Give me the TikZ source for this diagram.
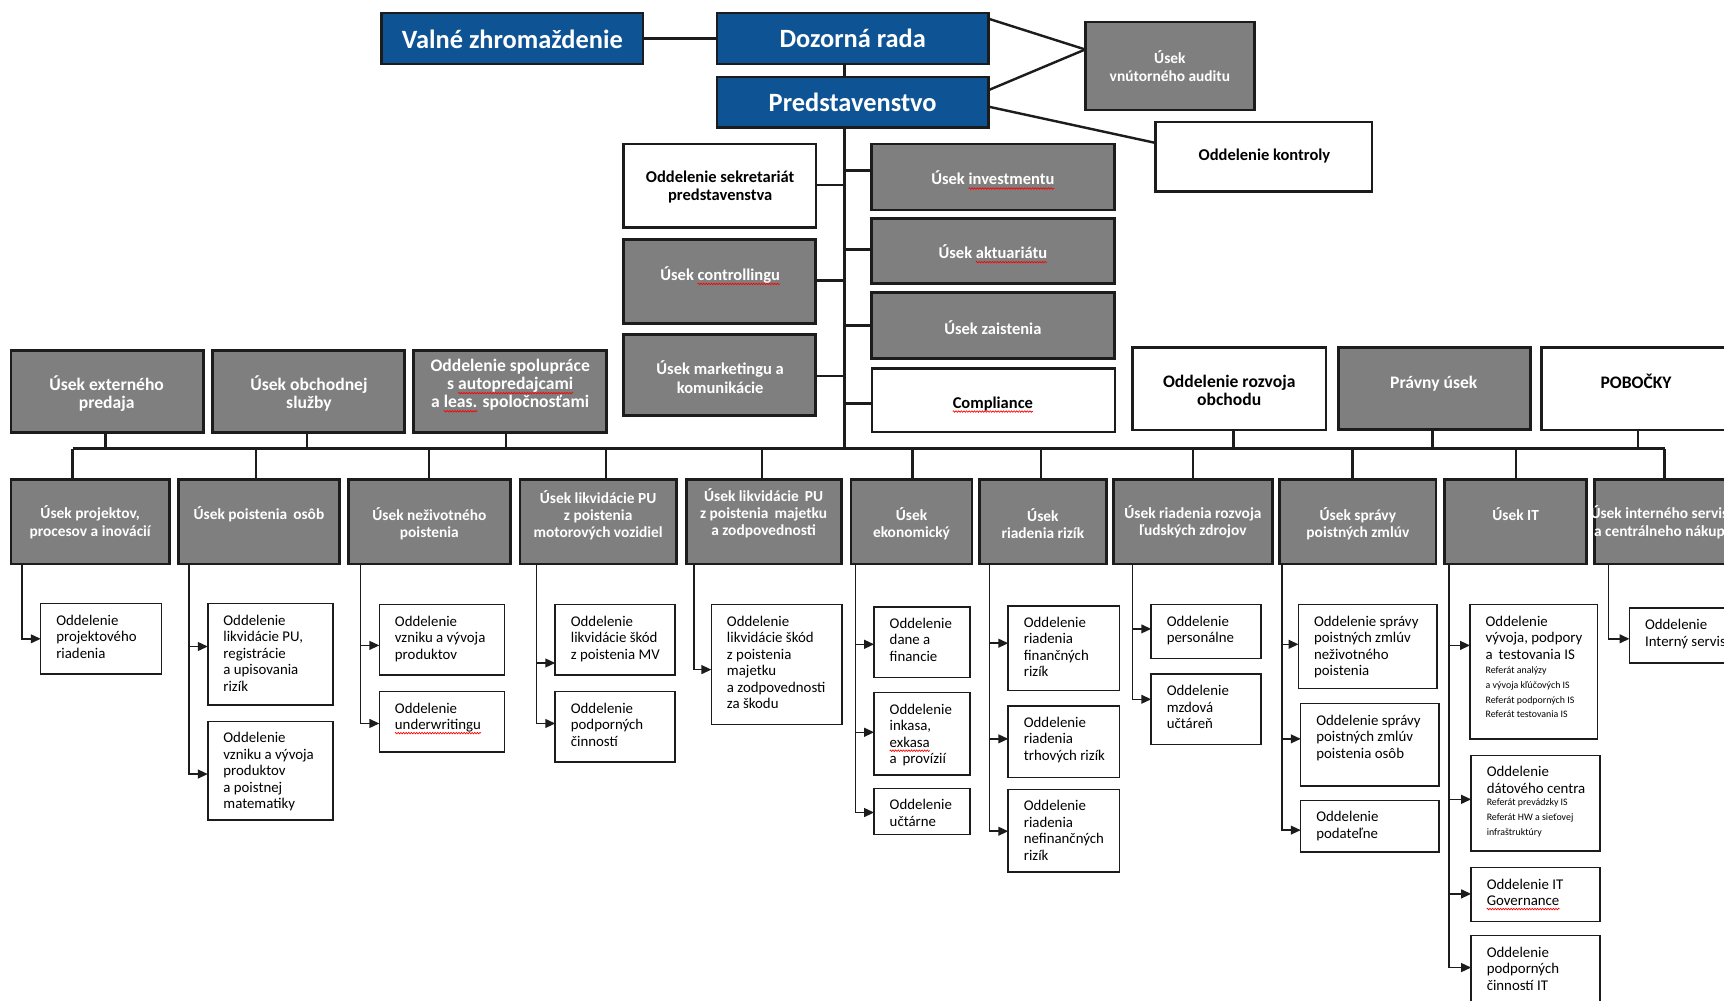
\documentclass[tikz,border=0pt]{standalone}
\usepackage{fontspec}
\setmainfont{Carlito}
\usetikzlibrary{arrows.meta,decorations.pathmorphing}
\definecolor{corpblue}{RGB}{14,84,148}
\definecolor{boxgray}{RGB}{127,127,127}
\definecolor{edge}{RGB}{28,28,28}
% word with a red wavy spell-check underline
\newlength\spellwd
\newcommand\spellmark[1]{\settowidth\spellwd{#1}\rlap{\tikz[overlay,x=1pt,y=1pt]\draw[red,line width=0.6pt,decorate,decoration={zigzag,segment length=2.4pt,amplitude=0.7pt}] (0,-3.2) -- (\spellwd,-3.2);}#1}
% box given by its corners: style, name, x1, y1, x2, y2
\newcommand\orgbox[6]{\node[#1, minimum width={#5-#3}, minimum height={#6-#4}] (#2) at ({(#3+#5)/2},{(#4+#6)/2}) {};}
% label: style, name, x, y, text
\newcommand\orglabel[5]{\node[#1] (#2) at (#3,#4) {#5};}
% department box with left-aligned text: name, x1, y1, x2, y2, text
\newcommand\subdept[6]{%
  \node[subbox, minimum width={#4-#2}, minimum height={#5-#3}] (#1) at ({(#2+#4)/2},{(#3+#5)/2}) {};
  \node[subtext] (#1-t) at ({#2+14},{#3+10}) {#6};}
% arrow from a division down its stem into a department: parent, child, stem x, y
\newcommand\feed[4]{\draw[sarr] (#1.south -| #3,0) |- (#2.west |- 0,#4);}
% drop from a box to the horizontal bus: box, anchor, x
\newcommand\tobus[3]{\draw[conn] (#1.#2 -| #3,0) -- (busL -| #3,0);}
\begin{document}
\begin{tikzpicture}[x=1pt,y=-1pt,
  bluebox/.style={draw=edge, line width=2pt, fill=corpblue, inner sep=0pt, outer sep=0pt},
  graybox/.style={draw=edge, line width=2.6pt, fill=boxgray, inner sep=0pt, outer sep=0pt},
  whitebox/.style={draw=edge, line width=2.2pt, fill=white, inner sep=0pt, outer sep=0pt},
  subbox/.style={draw=edge, line width=1.4pt, fill=white, inner sep=0pt, outer sep=0pt},
  toptext/.style={text=white, font=\fontsize{24}{28}\selectfont\bfseries},
  midtext/.style={text=white, align=center, font=\fontsize{15}{16.5}\selectfont\bfseries},
  whitetext/.style={text=black, align=center, font=\fontsize{15}{16.5}\selectfont\bfseries},
  rowonetext/.style={text=white, align=center, font=\fontsize{16}{16.5}\selectfont\bfseries},
  rowonewhite/.style={text=black, align=center, font=\fontsize{16}{16.5}\selectfont\bfseries},
  rowtext/.style={text=white, align=center, font=\fontsize{14}{15.5}\selectfont\bfseries},
  smallgray/.style={text=white, align=center, font=\fontsize{14}{16}\selectfont\bfseries},
  subtext/.style={anchor=north west, inner sep=0pt, align=left, font=\fontsize{13.5}{15}\selectfont},
  reftext/.style={anchor=north west, inner sep=0pt, align=left, font=\fontsize{9}{13.5}\selectfont},
  conn/.style={draw=edge, line width=2.2pt},
  stemline/.style={draw=edge, line width=1.4pt},
  sarr/.style={stemline, -{Triangle[length=9pt,width=8pt]}},
]
\clip (0,0) rectangle (1568,910);
\fill[white] (0,0) rectangle (1568,910);

% ---- governing bodies ----
\coordinate (trunk) at (768,0);
\coordinate (busL) at (66,408);
\coordinate (busR) at (1514,408);

\orgbox{bluebox}{vz}{347}{12}{585}{58}
\orgbox{bluebox}{dr}{652}{12}{899}{58}
\orgbox{bluebox}{pr}{652}{70}{899}{116}
\orgbox{graybox}{audit}{987}{20}{1141}{100}
\orgbox{whitebox}{kon}{1051}{111}{1248}{174}

\draw[conn] (vz.east |- 0,35) -- (dr.west |- 0,35);
\draw[conn] (dr.south -| trunk) -- (pr.north -| trunk);
\draw[conn] (dr.east |- 0,17) -- (audit.west |- 0,45);
\draw[conn] (pr.east |- 0,82) -- (audit.west |- 0,45);
\draw[conn] (pr.east |- 0,97) -- (kon.west |- 0,130);
\draw[conn] (pr.south -| trunk) -- (busL -| trunk);
\draw[conn] (busL) -- (busR);

\orglabel{toptext}{vz-t}{466}{36}{Valné zhromaždenie}
\orglabel{toptext}{dr-t}{775.5}{35}{Dozorná rada}
\orglabel{toptext}{pr-t}{775.5}{93}{Predstavenstvo}
\orglabel{smallgray}{audit-t}{1064}{60}{Úsek\\vnútorného auditu}
\orglabel{whitetext}{kon-t}{1150}{142}{Oddelenie kontroly}

% ---- staff units on the trunk ----
\orgbox{whitebox}{sek}{567}{131}{742}{207}
\orgbox{graybox}{ctrl}{567}{218}{742}{294}
\orgbox{graybox}{mkt}{567}{304}{742}{378}
\orgbox{graybox}{inv}{793}{131}{1014}{191}
\orgbox{graybox}{akt}{793}{199}{1014}{258}
\orgbox{graybox}{zai}{793}{266}{1014}{326}
\orgbox{whitebox}{cmp}{793}{335}{1014}{393}

\draw[conn] (sek.east |- 0,168) -- (trunk |- 0,168);
\draw[conn] (ctrl.east |- 0,255) -- (trunk |- 0,255);
\draw[conn] (mkt.east |- 0,342) -- (trunk |- 0,342);
\draw[conn] (inv.west |- 0,155) -- (trunk |- 0,155);
\draw[conn] (akt.west |- 0,227) -- (trunk |- 0,227);
\draw[conn] (zai.west |- 0,296) -- (trunk |- 0,296);
\draw[conn] (cmp.west |- 0,367) -- (trunk |- 0,367);

\orglabel{whitetext}{sek-t}{655}{170}{Oddelenie sekretariát\\predstavenstva}
\orglabel{midtext}{ctrl-t}{655}{250}{Úsek \spellmark{controllingu}}
\orglabel{midtext}{mkt-t}{655}{343}{Úsek marketingu a\\komunikácie}
\orglabel{midtext}{inv-t}{903}{162}{Úsek \spellmark{investmentu}}
\orglabel{midtext}{akt-t}{903}{229}{Úsek \spellmark{aktuariátu}}
\orglabel{midtext}{zai-t}{903}{298}{Úsek zaistenia}
\orglabel{whitetext}{cmp-t}{903}{367}{\spellmark{Compliance}}

% ---- first row above the bus ----
\orgbox{graybox}{ext}{10}{319}{185}{393}
\orgbox{graybox}{obs}{193}{319}{368}{393}
\orgbox{graybox}{spo}{376}{319}{552}{393}
\orgbox{whitebox}{roz}{1030}{316}{1206}{391}
\orgbox{graybox}{prav}{1217}{316}{1392}{391}
\orgbox{whitebox}{pob}{1402}{316}{1580}{391}

\tobus{ext}{south}{96}
\tobus{obs}{south}{279}
\tobus{spo}{south}{460}
\tobus{roz}{south}{1122}
\tobus{prav}{south}{1303}
\tobus{pob}{south}{1490}

\orglabel{rowonetext}{ext-t}{97}{358}{Úsek externého\\predaja}
\orglabel{rowonetext}{obs-t}{281}{358}{Úsek obchodnej\\služby}
\orglabel{rowonetext}{spo-t}{464}{350}{Oddelenie spolupráce\\s \spellmark{autopredajcami}\\a \spellmark{leas.} spoločnosťami}
\orglabel{rowonewhite}{roz-t}{1118}{355}{Oddelenie rozvoja\\obchodu}
\orglabel{rowonetext}{prav-t}{1304}{349}{Právny úsek}
\orglabel{rowonewhite}{pob-t}{1488}{347}{POBOČKY}

% ---- second row below the bus ----
\orgbox{graybox}{g1}{10}{436}{154}{513}
\orgbox{graybox}{g2}{162}{436}{309}{513}
\orgbox{graybox}{g3}{317}{436}{464}{513}
\orgbox{graybox}{g4}{473}{436}{615}{513}
\orgbox{graybox}{g5}{624}{436}{765}{513}
\orgbox{graybox}{g6}{774}{436}{884}{513}
\orgbox{graybox}{g7}{891}{436}{1006}{513}
\orgbox{graybox}{g8}{1013}{436}{1157}{513}
\orgbox{graybox}{g9}{1164}{436}{1306}{513}
\orgbox{graybox}{g10}{1314}{436}{1443}{513}
\orgbox{graybox}{g11}{1450}{436}{1580}{513}

\tobus{g1}{north}{66}
\tobus{g2}{north}{233}
\tobus{g3}{north}{390}
\tobus{g4}{north}{551}
\tobus{g5}{north}{693}
\tobus{g6}{north}{830}
\tobus{g7}{north}{947}
\tobus{g8}{north}{1085}
\tobus{g9}{north}{1230}
\tobus{g10}{north}{1379}
\tobus{g11}{north}{1514}

\orglabel{rowtext}{g1-t}{82}{475}{Úsek projektov,\\procesov a inovácií}
\orglabel{rowtext}{g2-t}{235.5}{468}{Úsek poistenia\, osôb}
\orglabel{rowtext}{g3-t}{390.5}{476}{Úsek neživotného\\poistenia}
\orglabel{rowtext}{g4-t}{544}{469}{Úsek likvidácie PU\\z poistenia\\motorových vozidiel}
\orglabel{rowtext}{g5-t}{694.5}{467}{Úsek likvidácie\, PU\\z poistenia\, majetku\\a zodpovednosti}
\orglabel{rowtext}{g6-t}{829}{476}{Úsek\\ekonomický}
\orglabel{rowtext}{g7-t}{948.5}{476}{Úsek\\riadenia rizík}
\orglabel{rowtext}{g8-t}{1085}{475}{Úsek riadenia rozvoja\\ľudských zdrojov}
\orglabel{rowtext}{g9-t}{1235}{476}{Úsek správy\\poistných zmlúv}
\orglabel{rowtext}{g10-t}{1378.5}{468}{Úsek IT}
\orglabel{rowtext}{g11-t}{1513}{475}{Úsek interného servisu\\a centrálneho nákupu}

% ---- departments ----
\subdept{s1a}{37}{549}{147}{613}{Oddelenie\\projektového\\riadenia}
\subdept{s2a}{189}{549}{303}{641}{Oddelenie\\likvidácie PU,\\registrácie\\a upisovania\\rizík}
\subdept{s2b}{189}{656}{303}{746}{Oddelenie\\vzniku a vývoja\\produktov\\a poistnej\\matematiky}
\subdept{s3a}{345}{550}{459}{614}{Oddelenie\\vzniku a vývoja\\produktov}
\subdept{s3b}{345}{629}{459}{684}{Oddelenie\\\spellmark{underwritingu}}
\subdept{s4a}{505}{550}{614}{614}{Oddelenie\\likvidácie škód\\z poistenia MV}
\subdept{s4b}{505}{629}{614}{693}{Oddelenie\\podporných\\činností}
\subdept{s5a}{647}{550}{766}{659}{Oddelenie\\likvidácie škód\\z poistenia\\majetku\\a zodpovednosti\\za škodu}
\subdept{s6a}{795}{552}{882}{616}{Oddelenie\\dane a\\financie}
\subdept{s6b}{795}{630}{882}{705}{Oddelenie\\inkasa,\\\spellmark{exkasa}\\a\, provízií}
\subdept{s6c}{795}{717}{882}{759}{Oddelenie\\učtárne}
\subdept{s7a}{917}{551}{1018}{628}{Oddelenie\\riadenia\\finančných\\rizík}
\subdept{s7b}{917}{642}{1018}{707}{Oddelenie\\riadenia\\trhových rizík}
\subdept{s7c}{917}{718}{1018}{793}{Oddelenie\\riadenia\\nefinančných\\rizík}
\subdept{s8a}{1047}{550}{1147}{599}{Oddelenie\\personálne}
\subdept{s8b}{1047}{613}{1147}{677}{Oddelenie\\mzdová\\učtáreň}
\subdept{s9a}{1181}{550}{1307}{626}{Oddelenie správy\\poistných zmlúv\\neživotného\\poistenia}
\subdept{s9b}{1183}{640}{1309}{715}{Oddelenie správy\\poistných zmlúv\\poistenia osôb}
\subdept{s9c}{1183}{728}{1309}{775}{Oddelenie\\podateľne}
\subdept{s10a}{1337}{550}{1453}{672}{Oddelenie\\vývoja, podpory\\a\, testovania IS}
\subdept{s10b}{1338}{687}{1455}{774}{Oddelenie\\dátového centra}
\subdept{s10c}{1338}{789}{1455}{838}{Oddelenie IT\\\spellmark{Governance}}
\subdept{s10d}{1338}{851}{1455}{925}{Oddelenie\\podporných\\činností IT}
\subdept{s11a}{1482}{553}{1580}{603}{Oddelenie\\Interný servis}

\node[reftext] (s10a-r) at (1351,606) {Referát analýzy\\a vývoja kľúčových IS\\Referát podporných IS\\Referát testovania IS};
\node[reftext] (s10b-r) at (1352,726) {Referát prevádzky IS\\Referát HW a sieťovej\\infraštruktúry};

% ---- department feeds ----
\feed{g1}{s1a}{20}{581}
\feed{g2}{s2a}{172}{588}
\feed{g2}{s2b}{172}{704}
\feed{g3}{s3a}{328}{587}
\feed{g3}{s3b}{328}{658}
\feed{g4}{s4a}{488}{603}
\feed{g4}{s4b}{488}{658}
\feed{g5}{s5a}{631}{609}
\feed{g6}{s6a}{778}{586}
\feed{g6}{s6b}{778}{666}
\feed{g6}{s6c}{778}{739}
\feed{g7}{s7a}{900}{585}
\feed{g7}{s7b}{900}{672}
\feed{g7}{s7c}{900}{756}
\feed{g8}{s8a}{1030}{572}
\feed{g8}{s8b}{1030}{636}
\feed{g9}{s9a}{1166}{586}
\feed{g9}{s9b}{1166}{672}
\feed{g9}{s9c}{1166}{755}
\feed{g10}{s10a}{1318}{587}
\feed{g10}{s10b}{1318}{727}
\feed{g10}{s10c}{1318}{813}
\feed{g10}{s10d}{1318}{880}
\feed{g11}{s11a}{1463}{581}
\end{tikzpicture}
\end{document}
